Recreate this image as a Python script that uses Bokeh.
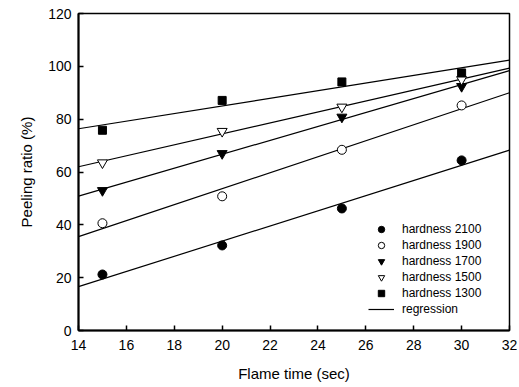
import numpy as np
from bokeh.plotting import figure
from bokeh.models import Range1d, FixedTicker, Legend, LegendItem
from bokeh.embed import file_html
from bokeh.resources import INLINE

# ---- data ----
flame_time = [15, 20, 25, 30]
h2100 = [21.2, 32.2, 46.2, 64.4]
h1900 = [40.6, 50.8, 68.4, 85.2]
h1700 = [53.0, 67.0, 80.8, 92.4]
h1500 = [63.5, 75.4, 84.6, 95.0]
h1300 = [75.8, 87.1, 94.1, 97.5]
series_labels = ["hardness 2100", "hardness 1900", "hardness 1700",
                 "hardness 1500", "hardness 1300"]
x_ticks = list(range(14, 33, 2))
y_ticks = list(range(0, 121, 20))
x_line = [14, 32]

FONT = "Liberation Sans"

p = figure(width=517, height=385, output_backend="svg", toolbar_location=None,
           x_range=Range1d(14, 32), y_range=Range1d(0, 120),
           min_border_left=78, min_border_right=8,
           min_border_top=13, min_border_bottom=55)
p.background_fill_color = "white"
p.border_fill_color = "white"
p.outline_line_color = "black"
p.outline_line_width = 1.5
p.xgrid.visible = False
p.ygrid.visible = False

for ax in (p.xaxis[0], p.yaxis[0]):
    ax.axis_line_width = 2
    ax.axis_line_color = "black"
    ax.major_tick_in = 5
    ax.major_tick_out = 0
    ax.minor_tick_in = 0
    ax.minor_tick_out = 0
    ax.major_tick_line_width = 1.5
    ax.major_label_text_font = FONT
    ax.major_label_text_font_size = "14px"
    ax.major_label_text_color = "black"
    ax.axis_label_text_font = FONT
    ax.axis_label_text_font_size = "15px"
    ax.axis_label_text_font_style = "normal"
    ax.axis_label_text_color = "black"

p.xaxis.ticker = FixedTicker(ticks=x_ticks)
p.yaxis.ticker = FixedTicker(ticks=y_ticks)
p.xaxis.axis_label = "Flame time (sec)"
p.yaxis.axis_label = "Peeling ratio (%)"
p.xaxis.major_label_standoff = 9
p.yaxis.major_label_standoff = 7
p.xaxis.axis_label_standoff = 12
p.yaxis.axis_label_standoff = 10

series = [h2100, h1900, h1700, h1500, h1300]
markers = ["circle", "circle", "inverted_triangle", "inverted_triangle", "square"]
fills = ["black", "white", "black", "white", "black"]
sizes = [9, 9, 10, 10, 8]

items = []
reg_renderer = None
for vals, mk, fc, sz, lab in zip(series, markers, fills, sizes, series_labels):
    slope, intercept = np.polyfit(flame_time, vals, 1)
    y_line = [slope * xv + intercept for xv in x_line]
    lr = p.line(x_line, y_line, line_color="black", line_width=1.2)
    if reg_renderer is None:
        reg_renderer = lr
    sr = p.scatter(flame_time, vals, marker=mk, size=sz, fill_color=fc,
                   line_color="black", line_width=1)
    items.append(LegendItem(label=lab, renderers=[sr]))
items.append(LegendItem(label="regression", renderers=[reg_renderer]))

legend = Legend(items=items, location=(290, 13), border_line_color=None,
                background_fill_alpha=0, padding=0, margin=0, spacing=0,
                label_height=16, glyph_height=16, glyph_width=26,
                label_standoff=8, label_text_font=FONT,
                label_text_font_size="12px", label_text_color="black")
p.add_layout(legend, "center")

open("out.html", "w").write(file_html(p, INLINE))
